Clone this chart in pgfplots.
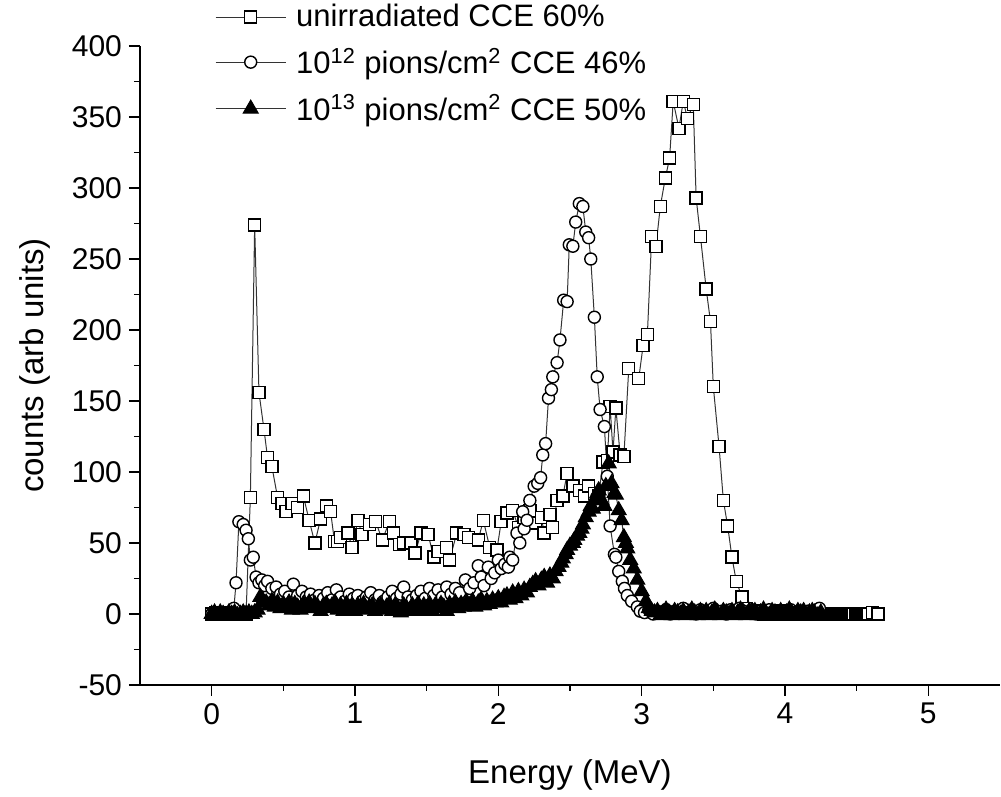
\documentclass[border=0pt]{standalone}
\usepackage{pgfplots}
\pgfplotsset{compat=1.18}
\usepackage{fontspec}
\setmainfont{Liberation Sans}
\begin{document}
\begin{tikzpicture}
\begin{axis}[
  scale only axis,
  width=430pt, height=319.5pt,
  xmin=-0.5, xmax=5.5, ymin=-50, ymax=400,
  axis lines*=left,
  axis line style={line width=0.8pt},
  tick style={line width=0.8pt, black},
  tick align=outside,
  major tick length=5.5pt, minor tick length=3pt,
  xtick={0,1,2,3,4,5}, ytick={-50,0,50,100,150,200,250,300,350,400},
  minor x tick num=1, minor y tick num=1,
  /pgf/number format/assume math mode=true,
  ticklabel style={font=\fontsize{15}{15}\selectfont},
  xlabel={Energy (MeV)}, ylabel={counts (arb units)},
  label style={font=\fontsize{16.5}{16.5}\selectfont},
  xlabel style={at={(axis description cs:0.5,-0.141)}, anchor=center},
  ylabel style={at={(axis description cs:-0.122,0.5)}, anchor=center},
  legend style={draw=none, fill=none, at={(axis description cs:0.087,1.072)}, anchor=north west,
     font=\fontsize{15.5}{15.5}\selectfont, inner sep=0pt, row sep=5pt, column sep=3pt, cells={anchor=west}},
  legend image code/.code={\draw[mark repeat=2,mark phase=2] plot coordinates {(0pt,0pt) (17.5pt,0pt) (35pt,0pt)};},
  every axis plot/.append style={line width=0.5pt, draw=black!80},
]
\addplot[mark=square*, mark size=3pt, mark options={fill=white, draw=black, line width=0.7pt}] coordinates {
(0.00,0) (0.03,1) (0.06,0) (0.09,1) (0.12,0) (0.15,1) (0.18,0) (0.21,1) (0.24,0) (0.27,82) (0.30,274) (0.33,156) (0.365,130) (0.39,110) (0.42,104) (0.46,82) (0.49,78) (0.52,72) (0.56,78) (0.60,75) (0.64,83) (0.68,66) (0.72,50) (0.76,67) (0.80,76) (0.83,72) (0.857,51) (0.88,51) (0.90,54) (0.95,57) (0.98,47) (1.02,66) (1.05,56) (1.10,63) (1.145,65) (1.19,52) (1.24,65) (1.27,57) (1.31,49) (1.34,50) (1.39,50) (1.42,43) (1.46,57) (1.51,56) (1.55,40) (1.58,44) (1.64,47) (1.66,38) (1.71,57) (1.76,56) (1.79,54) (1.86,52) (1.895,66) (1.94,47) (1.99,45) (2.02,65) (2.06,71) (2.10,73) (2.14,61) (2.18,68) (2.22,73) (2.26,64) (2.30,68) (2.32,57) (2.36,70) (2.38,61) (2.41,80) (2.45,83) (2.48,99) (2.52,90) (2.565,87) (2.60,83) (2.63,90) (2.67,85) (2.70,83) (2.73,107) (2.76,108) (2.78,146) (2.80,114) (2.82,145) (2.85,112) (2.876,111) (2.91,173) (2.98,166) (3.01,189) (3.04,197) (3.07,266) (3.10,259) (3.13,287) (3.165,307) (3.195,321) (3.22,361) (3.26,342) (3.29,361) (3.32,349) (3.36,359) (3.38,293) (3.41,266) (3.45,229) (3.48,206) (3.50,160) (3.54,118) (3.57,80) (3.60,62) (3.63,40) (3.66,23) (3.70,12) (3.73,4) (3.77,1) (3.81,2) (3.85,0) (3.89,1) (3.93,0) (3.97,2) (4.01,0) (4.05,1) (4.09,0) (4.13,1) (4.17,0) (4.21,1) (4.25,0) (4.27,0) (4.28,0) (4.29,0) (4.30,0) (4.31,0) (4.32,0) (4.33,0) (4.34,0) (4.35,0) (4.36,0) (4.37,0) (4.38,0) (4.39,0) (4.40,0) (4.41,0) (4.42,0) (4.43,0) (4.44,0) (4.45,0) (4.46,0) (4.47,0) (4.48,0) (4.49,0) (4.50,0) (4.51,0) (4.52,0) (4.53,0) (4.54,0) (4.55,0) (4.56,0) (4.57,0) (4.58,0) (4.61,1) (4.65,0)
};
\addlegendentry{unirradiated CCE 60\%}
\addplot[mark=*, mark size=3pt, mark options={fill=white, draw=black, line width=0.7pt}] coordinates {
(0.00,0) (0.02,1) (0.04,0) (0.06,0) (0.08,1) (0.10,0) (0.12,0) (0.14,1) (0.155,4) (0.17,22) (0.19,65) (0.22,63) (0.24,59) (0.256,53) (0.27,38) (0.29,40) (0.31,26) (0.33,22) (0.35,24) (0.37,20) (0.39,23) (0.42,18) (0.45,19) (0.48,14) (0.51,16) (0.54,12) (0.57,21) (0.60,13) (0.63,16) (0.66,12) (0.69,14) (0.72,10) (0.75,13) (0.78,11) (0.81,15) (0.84,10) (0.87,17) (0.90,12) (0.93,9) (0.96,14) (0.99,11) (1.02,13) (1.05,9) (1.08,12) (1.11,15) (1.14,10) (1.17,13) (1.20,9) (1.23,12) (1.26,16) (1.29,11) (1.32,14) (1.34,19) (1.37,12) (1.40,10) (1.43,13) (1.46,16) (1.49,11) (1.52,18) (1.55,13) (1.58,17) (1.61,12) (1.64,19) (1.67,14) (1.70,18) (1.73,15) (1.77,24) (1.80,18) (1.83,22) (1.86,34) (1.88,26) (1.90,20) (1.93,33) (1.95,25) (1.975,29) (2.00,38) (2.02,32) (2.045,35) (2.07,33) (2.08,40) (2.10,38) (2.13,57) (2.15,50) (2.17,72) (2.18,60) (2.20,66) (2.22,80) (2.25,90) (2.275,92) (2.295,96) (2.31,112) (2.33,120) (2.35,152) (2.37,158) (2.38,167) (2.41,177) (2.43,193) (2.456,221) (2.48,220) (2.495,260) (2.52,259) (2.54,276) (2.565,289) (2.59,287) (2.61,269) (2.63,265) (2.645,250) (2.67,209) (2.69,167) (2.71,144) (2.74,132) (2.76,97) (2.78,62) (2.81,42) (2.82,40) (2.84,30) (2.865,23) (2.88,18) (2.90,13) (2.93,9) (2.97,5) (2.99,2) (3.02,1) (3.05,3) (3.08,0) (3.11,2) (3.14,1) (3.17,3) (3.20,0) (3.23,2) (3.26,1) (3.29,4) (3.32,1) (3.35,2) (3.38,0) (3.41,3) (3.44,1) (3.47,2) (3.50,4) (3.53,1) (3.56,2) (3.59,0) (3.62,3) (3.65,1) (3.68,4) (3.71,2) (3.74,1) (3.77,3) (3.80,0) (3.83,2) (3.86,1) (3.89,3) (3.92,2) (3.95,0) (3.98,2) (4.01,1) (4.04,3) (4.07,1) (4.10,2) (4.13,0) (4.16,2) (4.19,1) (4.22,3) (4.24,4)
};
\addlegendentry{10\textsuperscript{12} pions/cm\textsuperscript{2} CCE 46\%}
\addplot[mark=triangle*, mark size=4.3pt, mark options={fill=black, draw=black}] coordinates {
(0.00,0) (0.02,1) (0.04,-1) (0.06,1) (0.08,0) (0.10,-1) (0.12,1) (0.14,0) (0.16,1) (0.18,-1) (0.20,0) (0.22,1) (0.24,0) (0.26,1) (0.28,0) (0.30,1) (0.32,3) (0.34,12) (0.36,9) (0.38,8) (0.40,6) (0.42,9) (0.44,5) (0.46,8) (0.48,4) (0.50,7) (0.52,5) (0.54,8) (0.56,3) (0.58,7) (0.60,5) (0.62,3) (0.64,7) (0.66,5) (0.68,8) (0.70,4) (0.72,7) (0.74,5) (0.76,2) (0.78,6) (0.80,7) (0.82,4) (0.84,6) (0.86,8) (0.88,3) (0.90,6) (0.92,2) (0.94,7) (0.96,4) (0.98,6) (1.00,2) (1.02,6) (1.04,4) (1.06,7) (1.08,3) (1.10,5) (1.12,6) (1.14,2) (1.16,5) (1.18,6) (1.20,3) (1.22,5) (1.24,7) (1.26,2) (1.28,6) (1.30,4) (1.32,1) (1.34,6) (1.36,4) (1.38,2) (1.40,6) (1.42,4) (1.44,7) (1.46,2) (1.48,6) (1.50,4) (1.52,7) (1.54,2) (1.56,6) (1.58,4) (1.60,7) (1.62,5) (1.64,2) (1.66,7) (1.68,5) (1.70,8) (1.72,4) (1.74,7) (1.76,5) (1.78,8) (1.80,6) (1.82,9) (1.84,5) (1.86,8) (1.88,10) (1.90,6) (1.92,9) (1.94,7) (1.96,10) (1.98,8) (2.00,11) (2.02,8) (2.04,12) (2.06,13) (2.08,10) (2.10,15) (2.12,11) (2.14,16) (2.16,13) (2.18,17) (2.20,15) (2.22,19) (2.24,21) (2.26,23) (2.28,20) (2.30,24) (2.32,26) (2.34,22) (2.36,27) (2.38,25) (2.40,30) (2.42,33) (2.44,36) (2.45,39) (2.47,42) (2.48,45) (2.50,48) (2.52,50) (2.53,52) (2.55,55) (2.565,57) (2.58,60) (2.59,63) (2.61,68) (2.63,72) (2.645,76) (2.66,74) (2.67,80) (2.69,85) (2.70,87) (2.72,80) (2.74,76) (2.75,90) (2.77,106) (2.79,92) (2.81,85) (2.82,84) (2.84,73) (2.86,66) (2.876,54) (2.89,50) (2.90,46) (2.92,38) (2.945,32) (2.97,24) (3.00,16) (3.03,9) (3.05,4) (3.07,2) (3.09,1) (3.11,2) (3.13,-1) (3.15,1) (3.17,3) (3.19,1) (3.21,-1) (3.23,2) (3.25,1) (3.27,0) (3.29,2) (3.31,-1) (3.33,1) (3.35,3) (3.37,1) (3.39,-1) (3.41,2) (3.43,0) (3.45,2) (3.47,-1) (3.49,1) (3.51,3) (3.53,0) (3.55,-1) (3.57,2) (3.59,1) (3.61,0) (3.63,2) (3.65,-1) (3.67,1) (3.69,3) (3.71,0) (3.73,-1) (3.75,2) (3.77,1) (3.79,2) (3.81,-1) (3.83,1) (3.85,3) (3.87,0) (3.89,-1) (3.91,2) (3.93,1) (3.95,0) (3.97,2) (3.99,-1) (4.01,1) (4.03,3) (4.05,0) (4.07,-1) (4.09,2) (4.11,1) (4.13,2) (4.15,-1) (4.17,1) (4.19,2) (4.21,0) (4.23,-1) (4.25,1)
};
\addlegendentry{10\textsuperscript{13} pions/cm\textsuperscript{2} CCE 50\%}
\end{axis}
\pgfresetboundingbox
\path ([xshift=-70pt,yshift=-56pt]current axis.south west) rectangle ++(500.5pt,398.5pt);
\end{tikzpicture}
\end{document}
